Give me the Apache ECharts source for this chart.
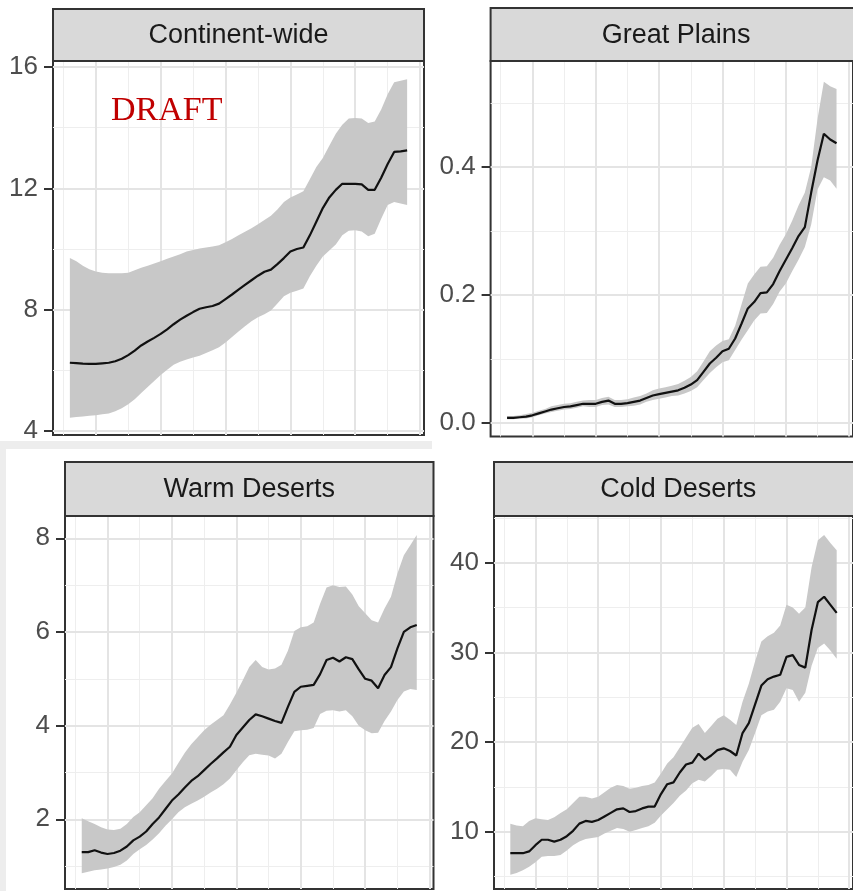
<!DOCTYPE html>
<html><head><meta charset="utf-8">
<script src="https://cdn.jsdelivr.net/npm/echarts@6/dist/echarts.min.js"></script>
<style>html,body{margin:0;padding:0;background:#fff;}#c{width:853px;height:891px;}</style>
</head><body><div id="c"></div>
<script>
const years = [1966,1967,1968,1969,1970,1971,1972,1973,1974,1975,
  1976,1977,1978,1979,1980,1981,1982,1983,1984,1985,
  1986,1987,1988,1989,1990,1991,1992,1993,1994,1995,
  1996,1997,1998,1999,2000,2001,2002,2003,2004,2005,
  2006,2007,2008,2009,2010,2011,2012,2013,2014,2015,
  2016,2017,2018];
const panelTitles = ['Continent-wide','Great Plains','Warm Deserts','Cold Deserts'];

const cwMean = [6.25,6.24,6.22,6.21,6.21,6.23,6.25,6.30,6.38,6.50,
  6.65,6.82,6.95,7.07,7.20,7.35,7.52,7.67,7.80,7.92,
  8.03,8.08,8.12,8.20,8.35,8.50,8.66,8.82,8.97,9.12,
  9.25,9.32,9.50,9.70,9.92,10.00,10.05,10.45,10.90,11.35,
  11.70,11.95,12.15,12.15,12.15,12.13,11.95,11.95,12.35,12.80,
  13.20,13.22,13.25];
const cwHigh = [9.70,9.60,9.45,9.33,9.26,9.22,9.20,9.20,9.20,9.22,
  9.30,9.38,9.45,9.52,9.60,9.68,9.75,9.83,9.92,9.97,
  10.02,10.05,10.08,10.12,10.22,10.33,10.45,10.57,10.68,10.82,
  10.96,11.10,11.30,11.55,11.70,11.80,11.90,12.30,12.70,13.00,
  13.40,13.80,14.10,14.30,14.32,14.30,14.15,14.20,14.60,15.10,
  15.50,15.55,15.60];
const cwLow = [4.44,4.46,4.48,4.50,4.52,4.55,4.58,4.65,4.75,4.88,
  5.05,5.25,5.45,5.65,5.85,6.02,6.18,6.28,6.36,6.42,
  6.48,6.57,6.66,6.76,6.92,7.10,7.28,7.45,7.62,7.75,
  7.85,7.97,8.20,8.44,8.56,8.62,8.70,9.10,9.45,9.75,
  9.95,10.15,10.45,10.60,10.62,10.58,10.42,10.50,11.00,11.45,
  11.55,11.50,11.45];

const gpMean = [0.008,0.008,0.009,0.010,0.012,0.015,0.018,0.021,0.023,0.025,
  0.026,0.028,0.030,0.030,0.030,0.033,0.035,0.030,0.030,0.031,
  0.033,0.035,0.039,0.043,0.045,0.047,0.049,0.051,0.055,0.060,
  0.067,0.080,0.093,0.102,0.112,0.116,0.132,0.155,0.179,0.189,
  0.203,0.204,0.217,0.237,0.255,0.273,0.292,0.306,0.360,0.410,
  0.452,0.443,0.437];
const gpHigh = [0.011,0.011,0.012,0.014,0.016,0.019,0.022,0.026,0.028,0.030,
  0.031,0.033,0.035,0.036,0.036,0.039,0.041,0.036,0.036,0.037,
  0.040,0.042,0.046,0.051,0.054,0.056,0.058,0.061,0.066,0.072,
  0.081,0.096,0.112,0.121,0.128,0.131,0.152,0.185,0.218,0.232,
  0.244,0.245,0.258,0.278,0.295,0.316,0.340,0.360,0.400,0.475,
  0.533,0.526,0.522];
const gpLow = [0.006,0.006,0.007,0.007,0.009,0.012,0.015,0.017,0.019,0.021,
  0.022,0.024,0.026,0.025,0.025,0.028,0.029,0.025,0.025,0.026,
  0.027,0.029,0.033,0.036,0.038,0.040,0.042,0.043,0.046,0.050,
  0.056,0.067,0.078,0.087,0.095,0.098,0.114,0.130,0.145,0.160,
  0.171,0.172,0.186,0.205,0.218,0.237,0.255,0.275,0.310,0.365,
  0.384,0.379,0.366];

const wdMean = [1.30,1.30,1.34,1.29,1.26,1.28,1.33,1.42,1.55,1.63,
  1.74,1.90,2.04,2.22,2.40,2.53,2.68,2.82,2.92,3.05,
  3.18,3.30,3.43,3.55,3.80,3.96,4.12,4.24,4.20,4.15,
  4.10,4.06,4.40,4.72,4.83,4.85,4.87,5.10,5.40,5.45,
  5.37,5.46,5.42,5.20,5.00,4.96,4.80,5.08,5.25,5.65,
  6.00,6.10,6.15];
const wdHigh = [2.02,1.96,1.90,1.83,1.78,1.77,1.80,1.90,2.05,2.15,
  2.30,2.45,2.65,2.82,2.98,3.20,3.42,3.60,3.75,3.90,
  4.02,4.12,4.22,4.45,4.70,4.97,5.25,5.40,5.25,5.20,
  5.22,5.30,5.60,6.02,6.10,6.12,6.20,6.60,6.95,7.00,
  6.96,6.97,6.80,6.55,6.40,6.25,6.20,6.50,6.75,7.25,
  7.64,7.85,8.07];
const wdLow = [0.85,0.88,0.91,0.93,0.95,0.98,1.03,1.12,1.26,1.36,
  1.45,1.57,1.70,1.86,2.00,2.15,2.26,2.33,2.40,2.48,
  2.57,2.65,2.75,2.87,3.05,3.22,3.37,3.40,3.38,3.36,
  3.30,3.40,3.65,3.88,3.90,3.91,3.95,4.25,4.32,4.33,
  4.30,4.33,4.20,4.00,3.90,3.84,3.85,4.10,4.30,4.55,
  4.73,4.78,4.76];

const cdMean = [7.6,7.6,7.6,7.8,8.5,9.1,9.1,8.9,9.1,9.5,
  10.1,10.9,11.2,11.1,11.3,11.7,12.1,12.5,12.6,12.2,
  12.3,12.6,12.8,12.8,14.2,15.3,15.5,16.6,17.5,17.7,
  18.7,18.0,18.5,19.1,19.3,19.0,18.5,21.0,22.1,24.2,
  26.3,27.0,27.3,27.5,29.5,29.7,28.6,28.3,32.5,35.6,
  36.2,35.3,34.4];
const cdHigh = [10.9,10.7,10.6,11.2,11.5,11.4,11.3,11.6,12.1,12.5,
  13.2,13.9,13.9,13.7,13.9,14.4,14.9,15.2,15.1,14.8,
  14.9,15.1,15.2,15.5,16.5,17.6,18.3,19.4,20.5,21.6,
  22.0,21.0,21.8,22.6,23.0,22.5,21.9,24.5,26.5,29.0,
  31.2,31.8,32.2,33.0,35.3,35.0,34.3,35.0,39.5,42.5,
  43.1,42.2,41.4];
const cdLow = [5.2,5.4,5.7,6.1,6.6,7.2,7.3,7.3,7.4,7.9,
  8.5,8.9,9.2,9.3,9.4,9.8,10.1,10.4,10.3,10.0,
  10.2,10.4,10.6,11.0,11.8,12.5,13.2,14.0,14.6,15.4,
  15.8,15.6,16.2,16.9,17.0,16.9,16.1,17.8,19.1,21.0,
  23.0,23.4,23.6,24.5,26.0,25.8,24.5,25.5,28.5,30.5,
  31.0,30.2,29.3];

const cwTicks = [4,8,12,16];       const cwMinor = [6,10,14];
const gpTicks = [0,0.2,0.4];       const gpMinor = [0.1,0.3,0.5];
const wdTicks = [2,4,6,8];         const wdMinor = [1,3,5,7];
const cdTicks = [10,20,30,40];     const cdMinor = [5,15,25,35,45];
const xMajor = [1970,1980,1990,2000,2010,2020];
const xMinor = [1965,1975,1985,1995,2005,2015];
const xRange = [1963.4, 2020.6];

const panels = [
  {mean: cwMean, low: cwLow, high: cwHigh, ticks: cwTicks, minor: cwMinor, yr: [3.868, 16.198], dec: 0},
  {mean: gpMean, low: gpLow, high: gpHigh, ticks: gpTicks, minor: gpMinor, yr: [-0.0211, 0.5656], dec: 1},
  {mean: wdMean, low: wdLow, high: wdHigh, ticks: wdTicks, minor: wdMinor, yr: [0.512, 8.476], dec: 0},
  {mean: cdMean, low: cdLow, high: cdHigh, ticks: cdTicks, minor: cdMinor, yr: [3.61, 45.21], dec: 0}
];
// layout (pixels)
const boxes = [
  {left: 53,  top: 61,  width: 371,   height: 374,   stripTop: 9,   stripH: 52},
  {left: 490.6, top: 61, width: 371,  height: 375.5, stripTop: 8,   stripH: 53},
  {left: 65,  top: 516, width: 368.5, height: 373,   stripTop: 462, stripH: 54},
  {left: 494, top: 516, width: 368.5, height: 373,   stripTop: 462, stripH: 54}
];

const FONT = "'Liberation Sans', Arial, Helvetica, sans-serif";
const majorStyle = {color: '#e4e4e4', width: 2, type: 'solid'};
const minorStyle = {color: '#eeeeee', width: 1, type: 'solid'};

const grids = [], xAxes = [], yAxes = [], series = [], graphics = [];

// light grey screenshot frame
graphics.push({type: 'rect', z: -10, shape: {x: 0, y: 441, width: 432, height: 8}, style: {fill: '#ededed'}});
graphics.push({type: 'rect', z: -10, shape: {x: 0, y: 441, width: 6, height: 450}, style: {fill: '#ededed'}});

panels.forEach((p, i) => {
  const b = boxes[i];
  grids.push({left: b.left, top: b.top, width: b.width, height: b.height,
    show: true, backgroundColor: '#ffffff', borderColor: '#333333', borderWidth: 2, containLabel: false});
  xAxes.push({type: 'value', gridIndex: i, min: xRange[0], max: xRange[1], show: false});
  yAxes.push({type: 'value', gridIndex: i, min: p.yr[0], max: p.yr[1],
    axisLine: {show: false},
    splitLine: {show: false},
    axisTick: {show: true, customValues: p.ticks, length: 9, lineStyle: {color: '#333333', width: 2}},
    axisLabel: {show: true, customValues: p.ticks, margin: 15, fontSize: 26, color: '#4d4d4d', fontFamily: FONT,
      formatter: v => Number(v).toFixed(p.dec)}
  });
  const gl = [];
  xMinor.forEach(v => gl.push({xAxis: v, lineStyle: minorStyle}));
  p.minor.forEach(v => gl.push({yAxis: v, lineStyle: minorStyle}));
  xMajor.forEach(v => gl.push({xAxis: v, lineStyle: majorStyle}));
  p.ticks.forEach(v => gl.push({yAxis: v, lineStyle: majorStyle}));

  // confidence ribbon drawn through the axes' scales
  series.push({type: 'custom', xAxisIndex: i, yAxisIndex: i, z: 2, silent: true,
    data: years.map((y, k) => [y, p.low[k], p.high[k]]),
    encode: {x: 0, y: [1, 2]},
    renderItem: function (params, api) {
      if (params.dataIndex !== 0) return null;
      const upper = years.map((y, k) => api.coord([y, p.high[k]]));
      const lower = years.map((y, k) => api.coord([y, p.low[k]])).reverse();
      return {type: 'polygon', shape: {points: upper.concat(lower)}, style: {fill: '#c8c8c8'}};
    },
    markLine: {z: 1, silent: true, symbol: ['none', 'none'], label: {show: false}, animation: false, data: gl}
  });
  series.push({type: 'line', xAxisIndex: i, yAxisIndex: i, z: 3,
    data: years.map((y, k) => [y, p.mean[k]]), symbol: 'none', silent: true,
    lineStyle: {color: '#111111', width: 2.2}
  });

  graphics.push({type: 'rect', z: 10, shape: {x: b.left, y: b.stripTop, width: b.width, height: b.stripH},
    style: {fill: '#d9d9d9', stroke: '#333333', lineWidth: 2}});
  graphics.push({type: 'text', z: 11, x: b.left + b.width / 2, y: b.stripTop + b.stripH / 2 + 1,
    style: {text: panelTitles[i], fontSize: 27, fontFamily: FONT, fill: '#1a1a1a',
      align: 'center', verticalAlign: 'middle', textAlign: 'center', textVerticalAlign: 'middle'}});
});

graphics.push({type: 'text', z: 20, x: 111, y: 111,
  style: {text: 'DRAFT', fontSize: 34, fontFamily: "'Liberation Serif', 'DejaVu Serif', serif", fill: '#c00000',
    align: 'left', verticalAlign: 'middle', textAlign: 'left', textVerticalAlign: 'middle'}});

const chart = echarts.init(document.getElementById('c'), null, {renderer: 'canvas'});
chart.setOption({
  animation: false,
  backgroundColor: '#ffffff',
  grid: grids, xAxis: xAxes, yAxis: yAxes, series: series,
  graphic: {elements: graphics}
});
</script></body></html>
